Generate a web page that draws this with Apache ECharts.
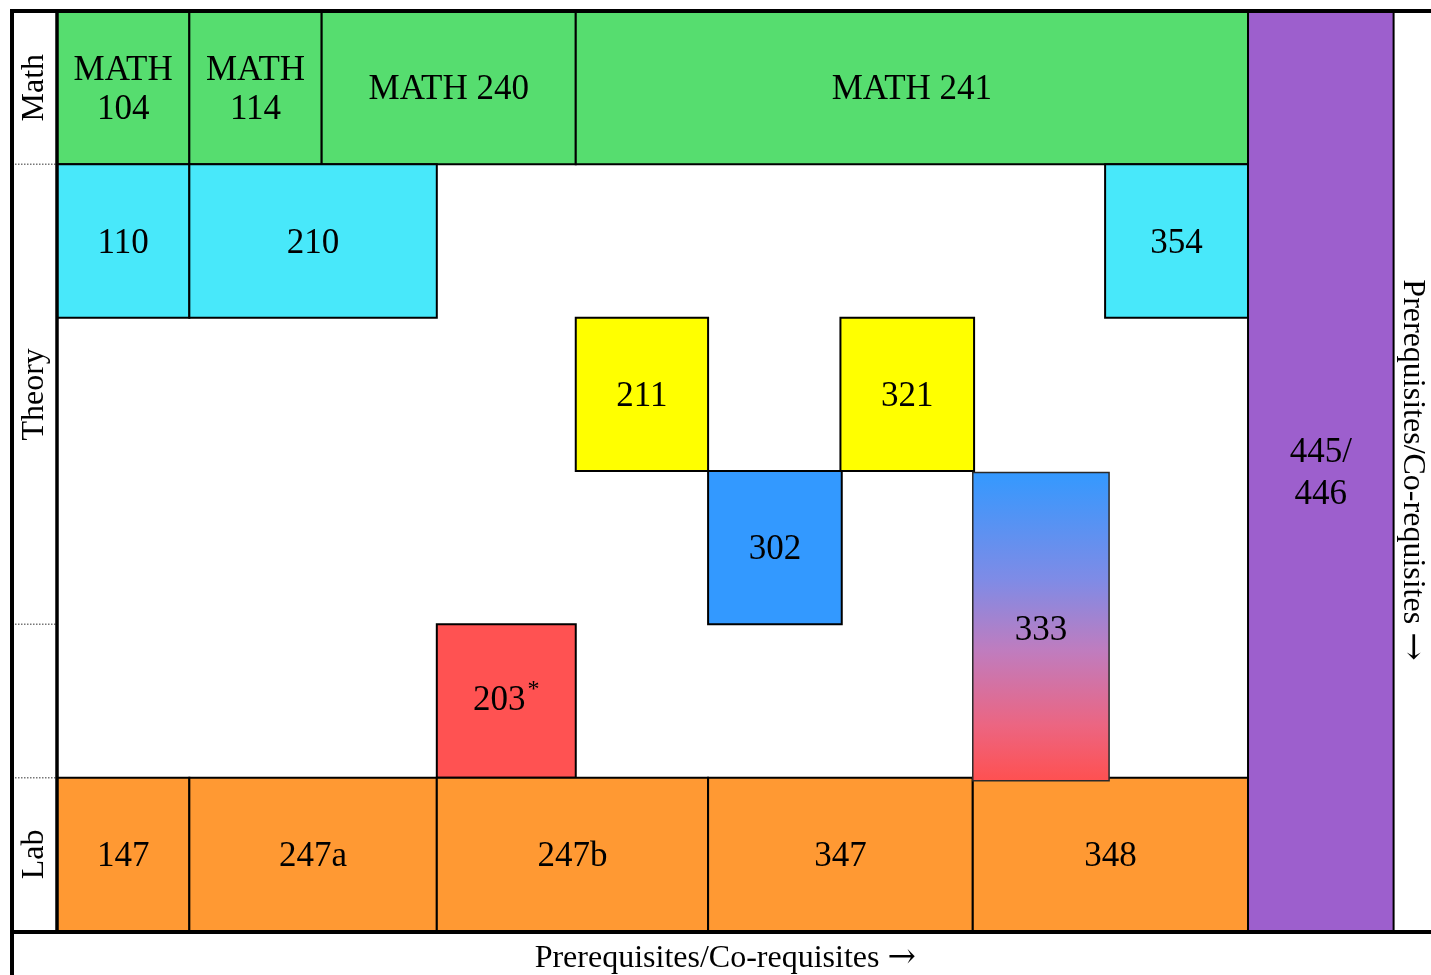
<!DOCTYPE html>
<html><head><meta charset="utf-8">
<script src="https://cdn.jsdelivr.net/npm/echarts@6/dist/echarts.min.js"></script>
<style>html,body{margin:0;padding:0;background:#fff}#c{width:1431px;height:975px}</style>
</head><body><div id="c"></div>
<script>
// Course boxes: column span (course-grid units) and row span
const courseNames = ['MATH\n104','MATH\n114','MATH 240','MATH 241','110','210','354','211','321','302','203','147','247a','247b','347','348','445/\n446','333'];
const courseNotes = ['','','','','','','','','','','*','','','','','','',''];
const colStart = [0, 1, 2, 3.92, 0, 1, 7.92, 3.92, 5.92, 4.92, 2.87, 0, 1, 2.87, 4.92, 6.92, 9, 6.92];
const colEnd   = [1, 2, 3.92, 9, 1, 2.87, 9, 4.92, 6.93, 5.93, 3.92, 1, 2.87, 4.92, 6.92, 9, 10.1, 7.95];
const rowStart = [0, 0, 0, 0, 1, 1, 1, 2, 2, 3, 4, 5, 5, 5, 5, 5, 0, 3.01];
const rowEnd   = [1, 1, 1, 1, 2, 2, 2, 3, 3, 4, 5, 6, 6, 6, 6, 6, 6, 5.02];
const courseGroup = ['math','math','math','math','intro','intro','intro','core','core','systems','hardware','lab','lab','lab','lab','lab','capstone','mixed'];

// Row band labels on the left
const bandNames = ['Math', 'Theory', '', 'Lab'];
const bandStart = [0, 1, 4, 5];
const bandEnd   = [1, 4, 5, 6];

// Axis titles
const xTitle = 'Prerequisites/Co-requisites ';
const yTitle = 'Prerequisites/Co-requisites ';
const arrow = '\u2192';

const FONT = '"Liberation Serif", "Times New Roman", serif';
const groupColor = {
  math: '#56dd6f', intro: '#48e8fa', core: '#ffff00', systems: '#3399ff',
  hardware: '#ff5252', lab: '#ff9933', capstone: '#9d5fcd',
  mixed: new echarts.graphic.LinearGradient(0, 0, 0, 1, [
    {offset: 0, color: '#3399ff'}, {offset: 0.35, color: '#7f8be6'},
    {offset: 0.58, color: '#c07cbe'}, {offset: 0.82, color: '#ec6581'}, {offset: 1, color: '#ff5050'}])
};
const LABEL_COL = 0.34; // width of the left label column, in column units

const courseData = courseNames.map((n, i) => [colStart[i], colEnd[i], rowStart[i], rowEnd[i], n, courseNotes[i], courseGroup[i]]);
const bandData = bandNames.map((n, i) => [bandStart[i], bandEnd[i], n]);

const measureCtx = document.createElement('canvas').getContext('2d');
function textWidth(t, size) { measureCtx.font = size + 'px ' + FONT; return measureCtx.measureText(t).width; }

const titleRich = {
  t: {fontFamily: FONT, fontSize: 32, fill: '#000'},
  a: {fontFamily: '"DejaVu Serif", serif', fontSize: 34, fill: '#000'}
};

const chart = echarts.init(document.getElementById('c'), null, {renderer: 'canvas'});
chart.setOption({
  animation: false,
  backgroundColor: '#fff',
  grid: {left: 57, right: 37.4, top: 11, bottom: 44},
  xAxis: {
    type: 'value', min: 0, max: 10.1,
    axisLine: {show: false}, axisTick: {show: false}, axisLabel: {show: false}, splitLine: {show: false}
  },
  yAxis: {
    type: 'value', min: 0, max: 6, inverse: true,
    axisLine: {show: false}, axisTick: {show: false}, axisLabel: {show: false}, splitLine: {show: false}
  },
  series: [
    {
      type: 'custom', name: 'courses', data: courseData, clip: false,
      encode: {x: [0, 1], y: [2, 3]},
      renderItem: function (params, api) {
        const p0 = api.coord([api.value(0), api.value(2)]);
        const p1 = api.coord([api.value(1), api.value(3)]);
        const d = courseData[params.dataIndex];
        const grp = d[6];
        const note = d[5];
        const name = d[4];
        const cx = (p0[0] + p1[0]) / 2, cy = (p0[1] + p1[1]) / 2;
        const isMixed = grp === 'mixed';
        const children = [
          {type: 'rect', shape: {x: p0[0], y: p0[1], width: p1[0] - p0[0], height: p1[1] - p0[1]},
           style: {fill: groupColor[grp], stroke: isMixed ? '#2a2a2a' : '#000', lineWidth: isMixed ? 1.5 : 2}}
        ];
        if (note) {
          const wMain = textWidth(name, 35), wNote = textWidth(note, 24);
          const left = cx - (wMain + wNote + 2) / 2;
          children.push({type: 'text', x: left, y: cy, z2: 10,
            style: {text: name, align: 'left', verticalAlign: 'middle', font: '35px ' + FONT, fill: '#000'}});
          children.push({type: 'text', x: left + wMain + 2, y: cy - 23, z2: 10,
            style: {text: note, align: 'left', verticalAlign: 'top', font: '24px ' + FONT, fill: '#000'}});
        } else {
          children.push({type: 'text', x: cx, y: cy + (isMixed ? 4 : 2.5), z2: 10,
            style: {text: name, align: 'center', verticalAlign: 'middle',
                    font: '35px ' + FONT, fill: '#000', lineHeight: grp === 'capstone' ? 42 : 39}});
        }
        return {type: 'group', children: children};
      }
    },
    {
      type: 'custom', name: 'bands', data: bandData, clip: false,
      encode: {y: [0, 1]},
      renderItem: function (params, api) {
        const p0 = api.coord([-LABEL_COL, api.value(0)]);
        const p1 = api.coord([0, api.value(1)]);
        const d = bandData[params.dataIndex];
        const children = [
          {type: 'text', x: (p0[0] + p1[0]) / 2, y: (p0[1] + p1[1]) / 2, rotation: Math.PI / 2,
           style: {text: d[2], align: 'center', verticalAlign: 'middle', font: '32px ' + FONT, fill: '#000'}}
        ];
        if (d[0] > 0) {
          children.push({type: 'line', shape: {x1: p0[0], y1: p0[1], x2: p1[0], y2: p0[1]},
            style: {stroke: '#777', lineWidth: 1.5, lineDash: [1.5, 1.5]}});
        }
        return {type: 'group', children: children};
      }
    }
  ]
});

// Frame lines and axis titles derived from the axes
const tl = chart.convertToPixel({gridIndex: 0}, [-LABEL_COL, 0]);
const gl = chart.convertToPixel({gridIndex: 0}, [0, 6]);
const gr = chart.convertToPixel({gridIndex: 0}, [10.1, 3]);
const W = chart.getWidth(), H = chart.getHeight();
chart.setOption({
  graphic: [
    {type: 'line', z: 100, shape: {x1: tl[0], y1: tl[1], x2: W, y2: tl[1]}, style: {stroke: '#000', lineWidth: 4}},
    {type: 'line', z: 100, shape: {x1: tl[0], y1: gl[1] + 1, x2: W, y2: gl[1] + 1}, style: {stroke: '#000', lineWidth: 4}},
    {type: 'line', z: 100, shape: {x1: tl[0], y1: tl[1] - 2, x2: tl[0], y2: H}, style: {stroke: '#000', lineWidth: 4}},
    {type: 'line', z: 100, shape: {x1: gl[0], y1: tl[1], x2: gl[0], y2: gl[1]}, style: {stroke: '#000', lineWidth: 3.5}},
    {type: 'text', z: 100, x: (gl[0] + gr[0]) / 2, y: (gl[1] + H) / 2 + 5.5,
     style: {text: '{t|' + xTitle + '}{a|' + arrow + '}', align: 'center', verticalAlign: 'middle', rich: titleRich}},
    {type: 'text', z: 100, x: (gr[0] + W) / 2, y: gr[1] - 1, rotation: -Math.PI / 2,
     style: {text: '{t|' + yTitle + '}{a|' + arrow + '}', align: 'center', verticalAlign: 'middle', rich: titleRich}}
  ]
});
</script>
</body></html>
